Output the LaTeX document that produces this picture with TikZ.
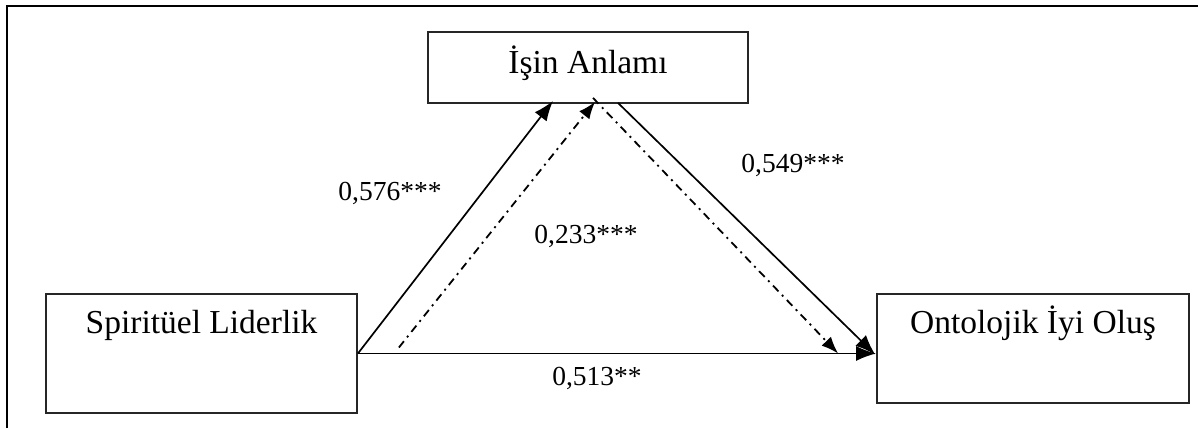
\documentclass[tikz,border=0pt]{standalone}
\usepackage{fontspec}
\setmainfont{Liberation Serif}
\usetikzlibrary{arrows.meta,calc}
\tikzset{
  box/.style={draw=black!85, line width=1.8pt, inner sep=0pt, font=\fontsize{33.5}{36}\selectfont},
  lbl/.style={font=\fontsize{27.5}{30}\selectfont, inner sep=0pt},
  solidarrow/.style={line width=1.7pt, -{Latex[length=20pt,width=15pt]}},
  dasharrow/.style={line width=1.8pt, dash pattern=on 8pt off 5pt on 2pt off 5pt, -{Latex[length=17pt,width=13pt]}},
}
\begin{document}
\begin{tikzpicture}[x=1pt,y=-1pt]
\useasboundingbox (0,0) rectangle (1198,428);
% outer frame
\draw[line width=2pt] (7,428) -- (7,6) -- (1198,6);
% boxes
\node[box, minimum width=320pt, minimum height=71pt, text height=24pt, text depth=11pt] (ia) at (588,67.5) {İşin Anlamı};
\node[box, minimum width=311pt, minimum height=119pt, text height=24pt, text depth=65pt] (sl) at (201.5,353.5) {Spiritüel Liderlik};
\node[box, minimum width=312pt, minimum height=109pt, text height=24pt, text depth=55pt] (ob) at (1033,348.5) {Ontolojik İyi Oluş};
% connectors
\draw[solidarrow] (sl.east) -- ([xshift=-35pt,yshift=3pt]ia.south);
\draw[dasharrow] ([xshift=41pt,yshift=6pt]sl.east) -- ([xshift=7pt,yshift=2pt]ia.south);
\draw[dasharrow] ([xshift=5pt,yshift=6pt]ia.south) -- ([xshift=-38pt]sl.east -| ob.west);
\draw[solidarrow] ([xshift=30pt,yshift=1pt]ia.south) -- ([xshift=-1pt,yshift=-1pt]sl.east -| ob.west);
\draw[solidarrow] (sl.east) -- (sl.east -| ob.west);
% labels
\node[lbl] (l1) at (390,193) {0,576***};
\node[lbl] (l2) at (586,236) {0,233***};
\node[lbl] (l3) at (793,165) {0,549***};
\node[lbl] (l4) at (597,378) {0,513**};
\end{tikzpicture}
\end{document}
